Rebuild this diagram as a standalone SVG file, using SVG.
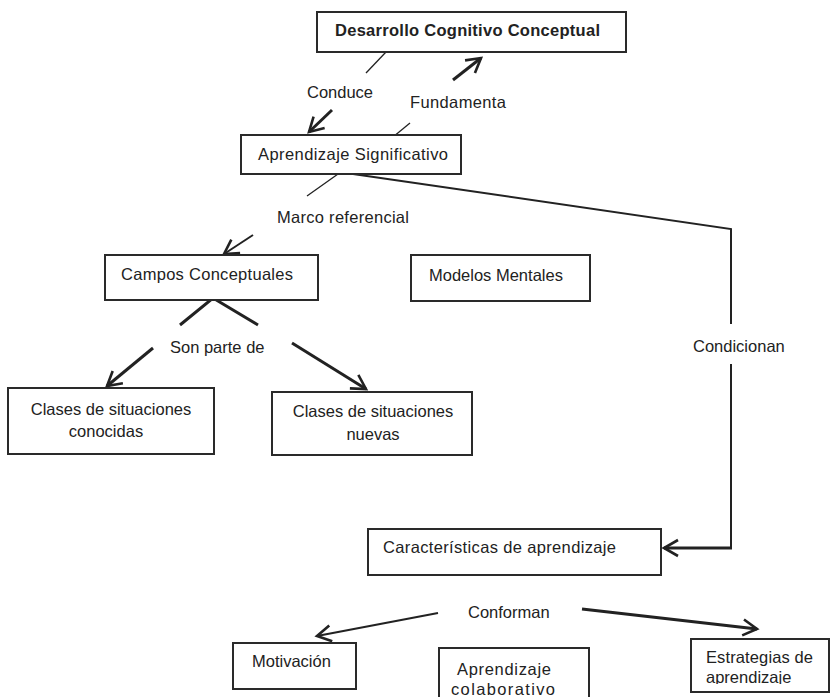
<svg xmlns="http://www.w3.org/2000/svg" width="831" height="697" viewBox="0 0 831 697">
<style>
.box{fill:#fff;stroke:#2a2a2a;stroke-width:2}
.t{font-family:"Liberation Sans",Arial,sans-serif;font-size:16.5px;fill:#222}
.b{font-weight:bold}
.thin{stroke:#222;stroke-width:1.3;fill:none}
.mid{stroke:#222;stroke-width:2;fill:none}
.thick{stroke:#222;stroke-width:3;fill:none}
</style>
<defs>
<marker id="ah" markerUnits="userSpaceOnUse" viewBox="-16 -16 32 32" markerWidth="32" markerHeight="32" refX="0" refY="0" orient="auto" overflow="visible">
<path d="M-14,-8 L0,0 L-14,8" fill="none" stroke="#222" stroke-width="2.6"/>
</marker>
<clipPath id="clipEst"><rect x="691" y="639" width="140" height="45"/></clipPath>
</defs>
<rect width="831" height="697" fill="#fff"/>

<g id="connectors">
<line class="thin" x1="386" y1="52" x2="366" y2="73"/>
<line class="thick" x1="332" y1="110" x2="309" y2="132" marker-end="url(#ah)"/>
<line class="thin" x1="410" y1="123" x2="393" y2="137"/>
<line class="thick" x1="453" y1="80" x2="481" y2="58" marker-end="url(#ah)"/>
<line class="thin" x1="338" y1="174" x2="307" y2="196"/>
<line class="mid" x1="253" y1="235" x2="224" y2="254" marker-end="url(#ah)"/>
<polyline class="thick" points="180,325 213,298 258,325" stroke-width="3.5"/>
<line class="thick" x1="153" y1="348" x2="107" y2="386" marker-end="url(#ah)"/>
<line class="thick" x1="292" y1="343" x2="366" y2="389" marker-end="url(#ah)"/>
<polyline class="mid" points="353,174 731,229 731,324"/>
<polyline class="mid" points="731,364 731,548"/>
<line class="thick" x1="732" y1="548" x2="664" y2="548" marker-end="url(#ah)"/>
<line class="mid" x1="438" y1="613" x2="317" y2="636" marker-end="url(#ah)"/>
<line class="thick" x1="582" y1="609" x2="757" y2="629" marker-end="url(#ah)"/>

<text class="t" x="307" y="98">Conduce</text>
<text class="t" x="410" y="108" textLength="96" lengthAdjust="spacing">Fundamenta</text>
<text class="t" x="277" y="223" textLength="132" lengthAdjust="spacing">Marco referencial</text>
<text class="t" x="170" y="353">Son parte de</text>
<text class="t" x="693" y="352">Condicionan</text>
<text class="t" x="468" y="618">Conforman</text>
</g>

<g id="n-desarrollo">
<rect class="box" x="317" y="12" width="309" height="40" stroke-width="2.5"/>
<text class="t b" x="335" y="36" textLength="265" lengthAdjust="spacing">Desarrollo Cognitivo Conceptual</text>
</g>
<g id="n-aprendizaje-significativo">
<rect class="box" x="241" y="135" width="220" height="39"/>
<text class="t" x="258" y="160" textLength="190" lengthAdjust="spacing">Aprendizaje Significativo</text>
</g>
<g id="n-campos">
<rect class="box" x="105" y="255" width="213" height="45"/>
<text class="t" x="121" y="280" textLength="172" lengthAdjust="spacing">Campos Conceptuales</text>
</g>
<g id="n-modelos">
<rect class="box" x="411" y="255" width="179" height="46"/>
<text class="t" x="429" y="281">Modelos Mentales</text>
</g>
<g id="n-conocidas">
<rect class="box" x="8" y="388" width="206" height="66"/>
<text class="t" x="111" y="415" text-anchor="middle">Clases de situaciones</text>
<text class="t" x="106" y="437" text-anchor="middle">conocidas</text>
</g>
<g id="n-nuevas">
<rect class="box" x="272" y="392" width="200" height="63"/>
<text class="t" x="373" y="417" text-anchor="middle">Clases de situaciones</text>
<text class="t" x="373" y="440" text-anchor="middle">nuevas</text>
</g>
<g id="n-caracteristicas">
<rect class="box" x="368" y="529" width="293" height="46"/>
<text class="t" x="383" y="553" textLength="233" lengthAdjust="spacing">Características de aprendizaje</text>
</g>
<g id="n-motivacion">
<rect class="box" x="233" y="643" width="123" height="46"/>
<text class="t" x="252" y="667">Motivación</text>
</g>
<g id="n-colaborativo">
<rect class="box" x="439" y="648" width="150" height="70"/>
<text class="t" x="457" y="675" textLength="94" lengthAdjust="spacing">Aprendizaje</text>
<text class="t" x="451" y="695" textLength="104" lengthAdjust="spacing">colaborativo</text>
</g>
<g id="n-estrategias">
<rect class="box" x="691" y="639" width="138" height="53"/>
<text class="t" x="706" y="663" textLength="107" lengthAdjust="spacing">Estrategias de</text>
<text class="t" x="706" y="683" clip-path="url(#clipEst)">aprendizaje</text>
</g>
</svg>
